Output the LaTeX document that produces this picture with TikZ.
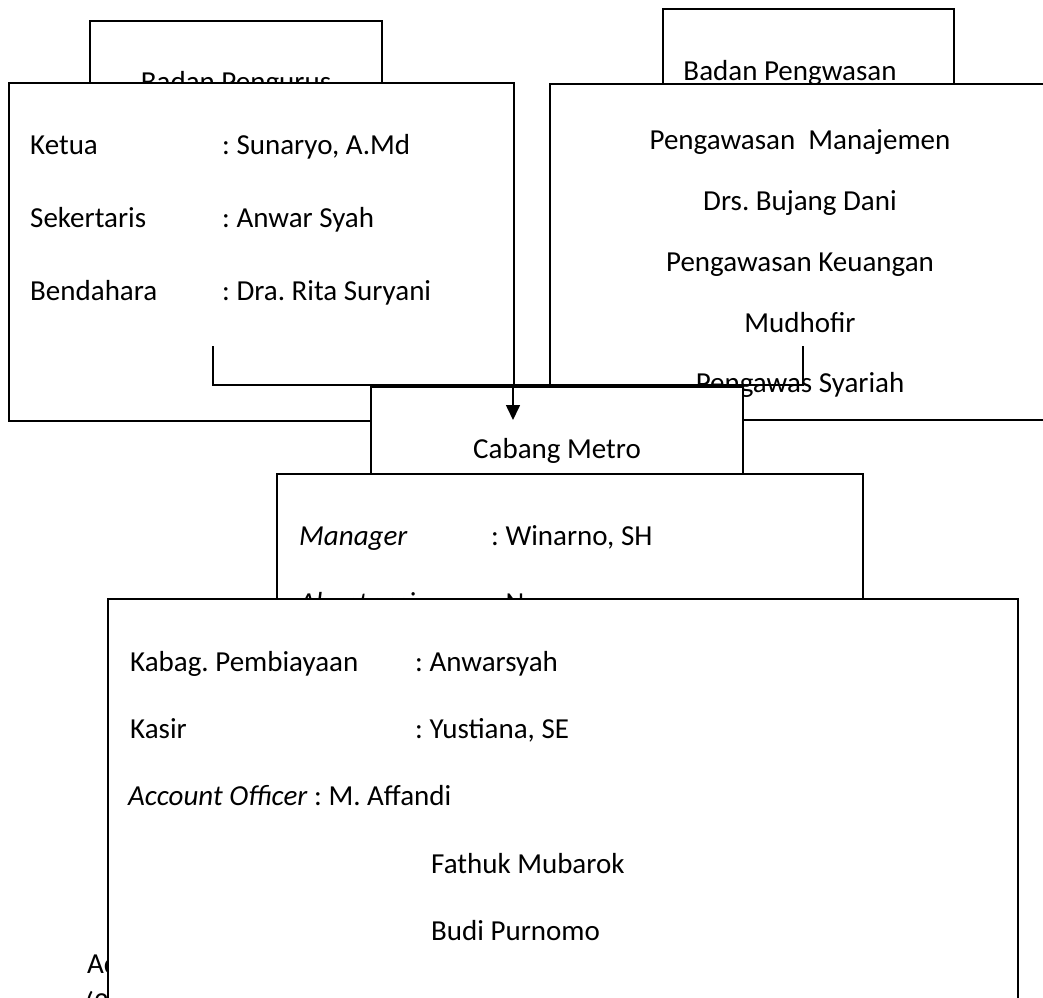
\documentclass[tikz,border=0pt]{standalone}
\usepackage{fontspec}
\setmainfont{Carlito}
\usetikzlibrary{arrows.meta}
\frenchspacing
\begin{document}
\begin{tikzpicture}[x=1pt,y=-1pt,
  box/.style={draw=black, fill=white, line width=1.6pt, inner sep=0pt},
  txt/.style={inner sep=0pt, anchor=base west, font=\fontsize{29}{35}\selectfont},
  ctxt/.style={inner sep=0pt, anchor=base, font=\fontsize{29}{35}\selectfont},
  link/.style={draw=black, line width=1.6pt},
  arr/.style={link, -{Triangle[width=14pt,length=15pt]}}]
\useasboundingbox (0,0) rectangle (1043,997);

% text of the page lying behind the chart
\node[txt] (ad) at (87,973) {Ad};
\node[txt] (par) at (85,1012) {(3};

% header boxes
\node[box, minimum width=292pt, minimum height=100pt] (pengurusHead) at (236,71) {};
\node[ctxt] (pengurusTitle) at (236,91) {Badan Pengurus};
\node[box, minimum width=291pt, minimum height=101pt] (pengawasHead) at (808.5,59.5) {};
\node[ctxt] (pengawasTitle) at (790,80) {Badan Pengwasan};

% board of management
\node[box, minimum width=505pt, minimum height=338pt] (pengurus) at (261.5,252) {};
\node[txt] (k1) at (30,154) {Ketua};
\node[txt] (k2) at (222,154) {: Sunaryo, A.Md};
\node[txt] (s1) at (30,227) {Sekertaris};
\node[txt] (s2) at (222,227) {: Anwar Syah};
\node[txt] (b1) at (30,300) {Bendahara};
\node[txt] (b2) at (222,300) {: Dra. Rita Suryani};

% supervisory board
\node[box, minimum width=510pt, minimum height=336pt] (pengawas) at (805,252) {};
\node[ctxt] (p1) at (800,149) {Pengawasan\ \ Manajemen};
\node[ctxt] (p2) at (800,210) {Drs. Bujang Dani};
\node[ctxt] (p3) at (800,271) {Pengawasan Keuangan};
\node[ctxt] (p4) at (800,332) {Mudhofir};
\node[ctxt] (p5) at (800,392) {Pengawas Syariah};

% connectors joining both boards
\coordinate (lstart) at (213,346);
\coordinate (lcorner) at (213,385);
\coordinate (rstart) at (803,346);
\coordinate (rcorner) at (803,385);
\coordinate (join) at (513,385);
\coordinate (tip) at (513,420);
\draw[link] (lstart) -- (lcorner) -- (rcorner) -- (rstart);

% branch office
\node[box, minimum width=372pt, minimum height=103pt] (cabang) at (557,438.5) {};
\node[ctxt] (cabangTitle) at (557,458) {Cabang Metro};
\draw[arr] (join) -- (tip);

\node[box, minimum width=586pt, minimum height=146pt] (manager) at (570,547) {};
\node[txt] (m1) at (299,545) {\textit{Manager}};
\node[txt] (m2) at (491,545) {: Winarno, SH};
\node[txt] (a1) at (299,612) {\textit{Akuntansi}};
\node[txt] (a2) at (491,612) {: N};

% staff
\node[box, minimum width=910pt, minimum height=416pt] (staff) at (563,807) {};
\node[txt] (f1) at (130,671) {Kabag. Pembiayaan};
\node[txt] (f2) at (415,671) {: Anwarsyah};
\node[txt] (c1) at (130,738) {Kasir};
\node[txt] (c2) at (415,738) {: Yustiana, SE};
\node[txt] (o1) at (128,805) {\textit{Account Officer} : M. Affandi};
\node[txt] (o2) at (431,873) {Fathuk Mubarok};
\node[txt] (o3) at (431,940) {Budi Purnomo};
\end{tikzpicture}
\end{document}
